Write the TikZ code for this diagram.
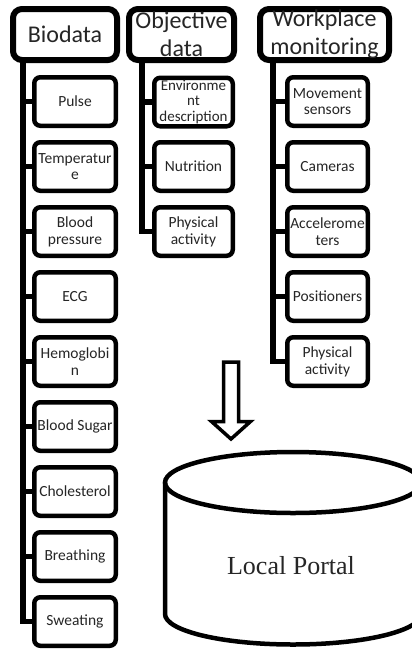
\documentclass[tikz,border=0pt]{standalone}
\usepackage{fontspec}
\setmainfont{Carlito}
\newfontfamily\portalfont{Liberation Serif}
\usetikzlibrary{shadows}
\begin{document}
\begin{tikzpicture}[x=1pt,y=-1pt,
  head/.style={draw, line width=6pt, rounded corners=9pt, fill=white,
    font=\fontsize{24}{28}\selectfont, text=black!85, align=center,
    inner sep=0pt, minimum height=51pt,
    drop shadow={opacity=0.25,shadow xshift=1pt,shadow yshift=-2pt}},
  item/.style={draw, line width=4.5pt, rounded corners=6pt, fill=white,
    font=\fontsize{15.5}{16.8}\selectfont, text=black!85, align=center,
    inner sep=0pt, minimum height=48.5pt},
  trunk/.style={line width=5.5pt, line join=miter},
  hollowarrow/.style={line width=3.5pt, line join=miter, fill=white},
  drum/.style={line width=4.5pt},
]
\clip (0,0) rectangle (412,649);
\fill[white] (0,0) rectangle (412,649);

% trunk anchor coordinates
\coordinate (bt) at (23,60);
\coordinate (ot) at (142,60);
\coordinate (wt) at (273,60);

% Biodata items
\foreach \n/\t [count=\k from 0] in {pulse/Pulse, temp/Temperatur\\e, bp/Blood\\pressure, ecg/ECG,
    hemo/Hemoglobi\\n, sugar/Blood Sugar, chol/Cholesterol, breath/Breathing, sweat/Sweating}
  \node[item, minimum width=81.5pt] (\n) at (75,101.5+65*\k) {\t};
% Objective items
\node[item, minimum width=78.5pt, font=\fontsize{15}{15.2}\selectfont] (env) at (193.5,102) {Environme\\nt\\description};
\node[item, minimum width=78.5pt] (nutr) at (193.5,166.5) {Nutrition};
\node[item, minimum width=78.5pt] (opa) at (193.5,231.5) {Physical\\activity};
% Workplace items
\foreach \n/\t [count=\k from 0] in {move/Movement\\sensors, cam/Cameras, acc/Accelerome\\ters,
    pos/Positioners, wpa/Physical\\activity}
  \node[item, minimum width=80.5pt] (\n) at (327.5,101.5+65*\k) {\t};

% trunks
\draw[trunk] (bt) |- (sweat.west);
\foreach \n in {pulse,temp,bp,ecg,hemo,sugar,chol,breath}
  \draw[trunk] (bt |- \n.west) -- (\n.west);
\draw[trunk] (ot) |- (opa.west);
\foreach \n in {env,nutr}
  \draw[trunk] (ot |- \n.west) -- (\n.west);
\draw[trunk] (wt) |- (wpa.west);
\foreach \n in {move,cam,acc,pos}
  \draw[trunk] (wt |- \n.west) -- (\n.west);

% headers
\node[head, minimum width=104pt] (bio) at (65,34.5) {Biodata};
\node[head, minimum width=105pt] (obj) at (181.5,34.5) {Objective\\data};
\node[head, minimum width=129pt] (work) at (324.5,34.5) {Workplace\\monitoring};

% hollow arrow
\draw[hollowarrow] (223.5,362) -- (238.5,362) -- (238.5,421.5) -- (250.5,421.5)
  -- (231,439) -- (211.5,421.5) -- (223.5,421.5) -- cycle;

% cylinder
\draw[drum] (293,482.5) ellipse [x radius=128, y radius=30.5];
\draw[drum] (165,482.5) -- (165,614) arc[start angle=180, end angle=0, x radius=128, y radius=30.5] -- (421,482.5);
\node[font=\portalfont\fontsize{26}{30}\selectfont, text=black!85] (portal) at (291,566) {Local Portal};
\end{tikzpicture}
\end{document}
